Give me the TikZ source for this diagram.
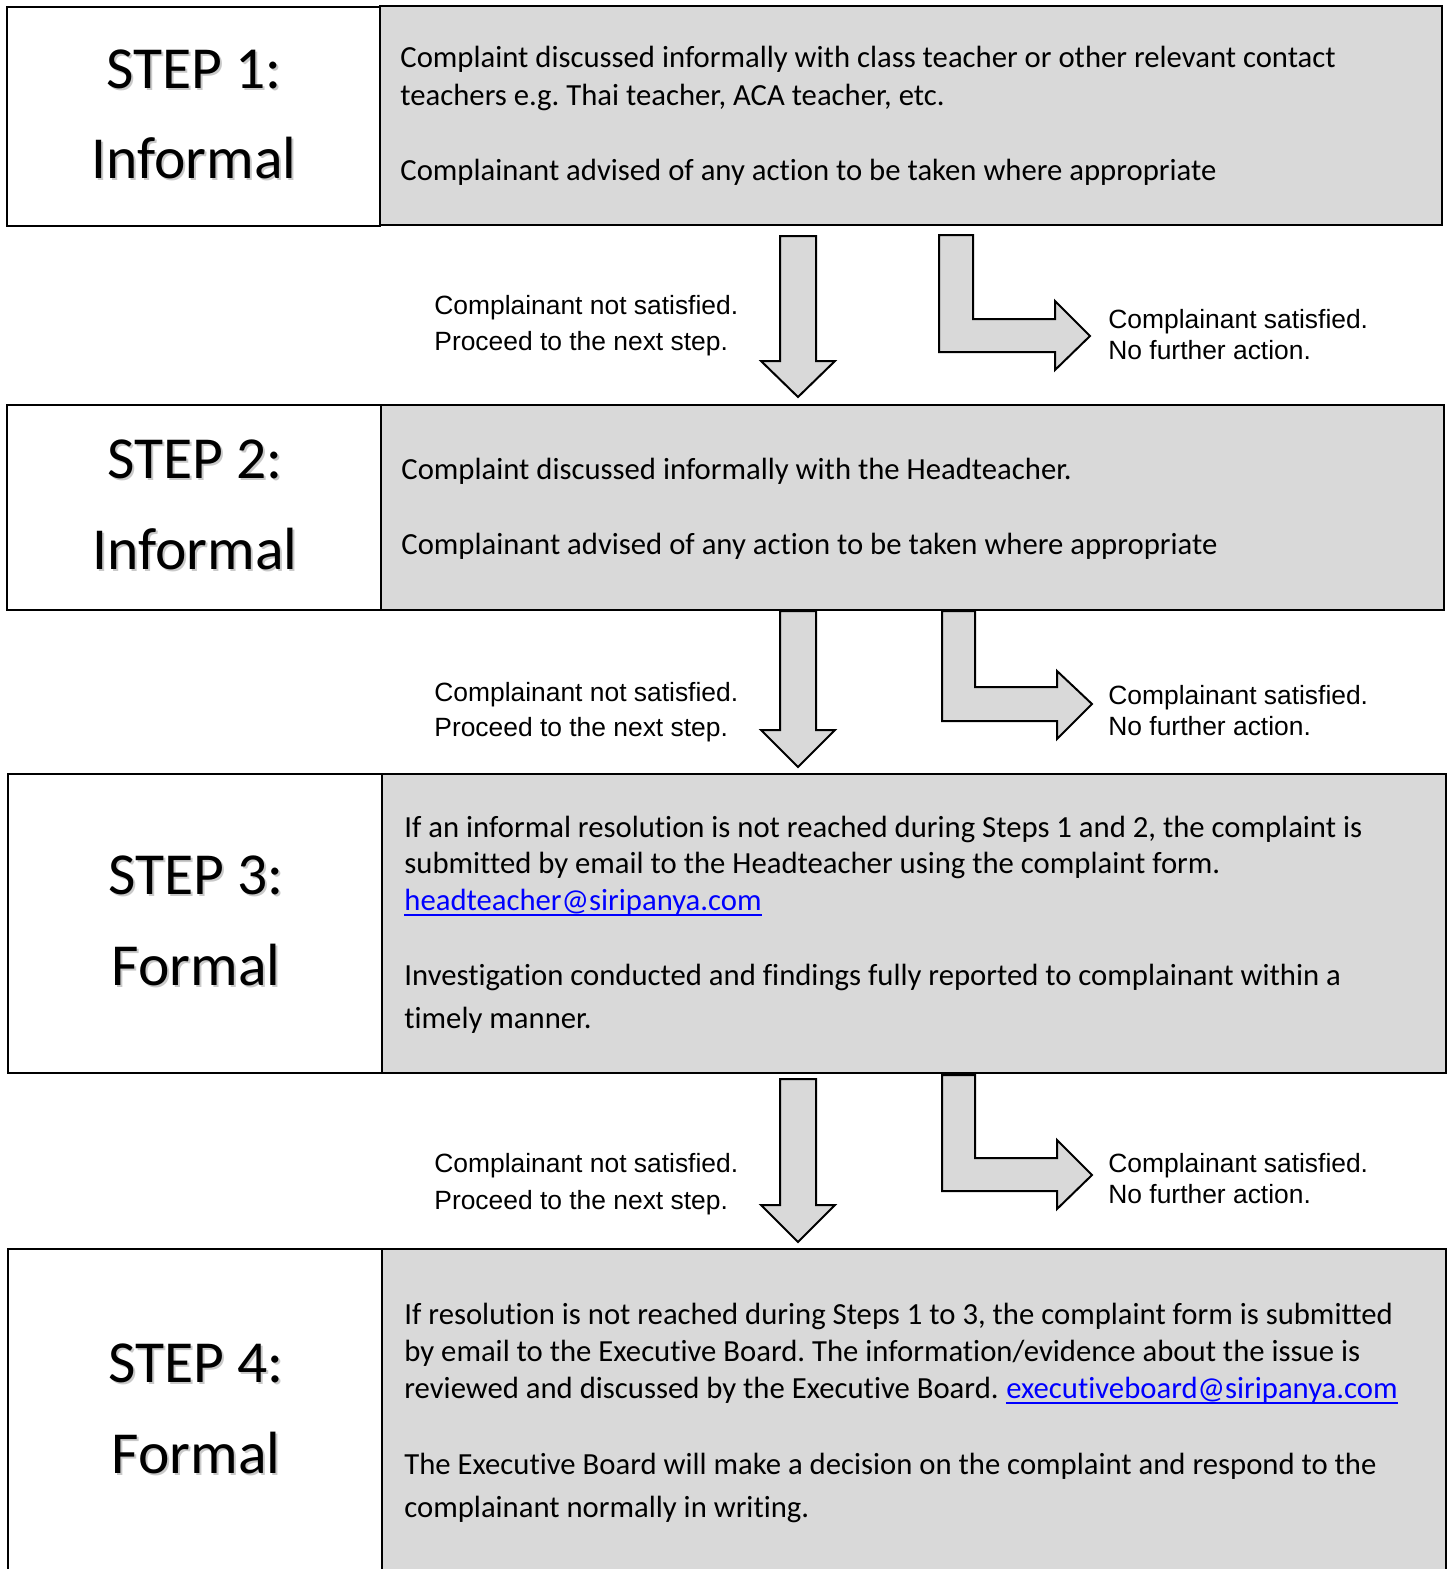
\documentclass[tikz,border=0pt]{standalone}
\usepackage{fontspec}
\setmainfont{Carlito}[Ligatures={NoCommon}]
\newfontfamily\arialf{Liberation Sans}
\definecolor{boxgray}{HTML}{D9D9D9}
\definecolor{linkblue}{HTML}{0000FF}
\frenchspacing
\newcommand\steptitle[4]{%
  \node[shadowt] at (#2+2,#3+2) {#4};
  \node[titletext] (#1) at (#2,#3) {#4};}
\begin{document}
\begin{tikzpicture}[x=0.5pt,y=-0.5pt,
  whitebox/.style={draw=black,fill=white,line width=1.2pt},
  graybox/.style={draw=black,fill=boxgray,line width=1.2pt},
  arrowshape/.style={draw=black,fill=boxgray,line width=1pt,line join=miter},
  body/.style={anchor=base west,inner sep=0pt,font=\fontsize{15.35}{18}\selectfont},
  linktext/.style={body,text=linkblue},
  underl/.style={draw=linkblue,line width=0.9pt},
  titletext/.style={anchor=base,inner sep=0pt,font=\fontsize{29.8}{35}\selectfont},
  shadowt/.style={titletext,text=black!35,opacity=0.6},
  lbl/.style={anchor=base west,inner sep=0pt,font=\arialf\fontsize{13.2}{16}\selectfont}]
\useasboundingbox (0,0) rectangle (1448,1569);
\clip (0,0) rectangle (1448,1569);
\fill[white] (0,0) rectangle (1448,1569);

% ---------- boxes ----------
\draw[graybox] (380,6) rectangle (1442,225);
\draw[whitebox] (7,7) rectangle (380,226);
\draw[graybox] (381,405) rectangle (1444,610);
\draw[whitebox] (7,405) rectangle (381,610);
\draw[graybox] (382,774) rectangle (1446,1073);
\draw[whitebox] (8,774) rectangle (382,1073);
\draw[graybox] (382,1249) rectangle (1446,1600);
\draw[whitebox] (8,1249) rectangle (382,1600);

% ---------- titles ----------
\steptitle{t1a}{194}{88}{STEP 1:}
\steptitle{t1b}{194}{178}{Informal}
\steptitle{t2a}{195}{478}{STEP 2:}
\steptitle{t2b}{195}{569}{Informal}
\steptitle{t3a}{196}{894}{STEP 3:}
\steptitle{t3b}{196}{985}{Formal}
\steptitle{t4a}{196}{1382}{STEP 4:}
\steptitle{t4b}{196}{1473}{Formal}

% ---------- body texts ----------
\node[body] (b1a) at (400,67) {Complaint discussed informally with class teacher or other relevant contact};
\node[body] (b1b) at (400,105) {teachers e.g. Thai teacher, ACA teacher, etc.};
\node[body] (b1c) at (400,180) {Complainant advised of any action to be taken where appropriate};

\node[body] (b2a) at (401,479) {Complaint discussed informally with the Headteacher.};
\node[body] (b2b) at (401,554) {Complainant advised of any action to be taken where appropriate};

\node[body] (b3a) at (404,837) {If an informal resolution is not reached during Steps 1 and 2, the complaint is};
\node[body] (b3b) at (404,873) {submitted by email to the Headteacher using the complaint form.};
\node[linktext] (b3c) at (404,910) {headteacher@siripanya.com};
\draw[underl] ([yshift=-2.6pt]b3c.base west) -- ([yshift=-2.6pt]b3c.base east);
\node[body] (b3d) at (404,985) {Investigation conducted and findings fully reported to complainant within a};
\node[body] (b3e) at (404,1028) {timely manner.};

\node[body] (b4a) at (404,1324) {If resolution is not reached during Steps 1 to 3, the complaint form is submitted};
\node[body] (b4b) at (404,1361) {by email to the Executive Board. The information/evidence about the issue is};
\node[body] (b4c) at (404,1398) {reviewed and discussed by the Executive Board.};
\node[linktext] (b4l) at ([xshift=3.47pt]b4c.base east) {executiveboard@siripanya.com};
\draw[underl] ([yshift=-2.6pt]b4l.base west) -- ([yshift=-2.6pt]b4l.base east);
\node[body] (b4d) at (404,1474) {The Executive Board will make a decision on the complaint and respond to the};
\node[body] (b4e) at (404,1517) {complainant normally in writing.};

% ---------- arrows ----------
\draw[arrowshape] (780,236) -- (816,236) -- (816,361) -- (835,361) -- (798,397) -- (761,361) -- (780,361) -- cycle;
\draw[arrowshape] (939,235) -- (973,235) -- (973,319) -- (1055,319) -- (1055,301) -- (1090,336) -- (1055,370) -- (1055,352) -- (939,352) -- cycle;

\draw[arrowshape] (780,611) -- (816,611) -- (816,730) -- (835,730) -- (798,767) -- (761,730) -- (780,730) -- cycle;
\draw[arrowshape] (942,611) -- (975,611) -- (975,687) -- (1057,687) -- (1057,671) -- (1092,704) -- (1057,739) -- (1057,721) -- (942,721) -- cycle;

\draw[arrowshape] (780,1079) -- (816,1079) -- (816,1205) -- (835,1205) -- (798,1242) -- (761,1205) -- (780,1205) -- cycle;
\draw[arrowshape] (942,1075) -- (975,1075) -- (975,1158) -- (1057,1158) -- (1057,1140) -- (1092,1175) -- (1057,1209) -- (1057,1191) -- (942,1191) -- cycle;

% ---------- arrow labels ----------
\node[lbl] (l1a) at (434,314) {Complainant not satisfied.};
\node[lbl] (l1b) at (434,350) {Proceed to the next step.};
\node[lbl] (r1a) at (1108,328) {Complainant satisfied.};
\node[lbl] (r1b) at (1108,359) {No further action.};

\node[lbl] (l2a) at (434,701) {Complainant not satisfied.};
\node[lbl] (l2b) at (434,736) {Proceed to the next step.};
\node[lbl] (r2a) at (1108,704) {Complainant satisfied.};
\node[lbl] (r2b) at (1108,735) {No further action.};

\node[lbl] (l3a) at (434,1172) {Complainant not satisfied.};
\node[lbl] (l3b) at (434,1209) {Proceed to the next step.};
\node[lbl] (r3a) at (1108,1172) {Complainant satisfied.};
\node[lbl] (r3b) at (1108,1203) {No further action.};
\end{tikzpicture}
\end{document}
